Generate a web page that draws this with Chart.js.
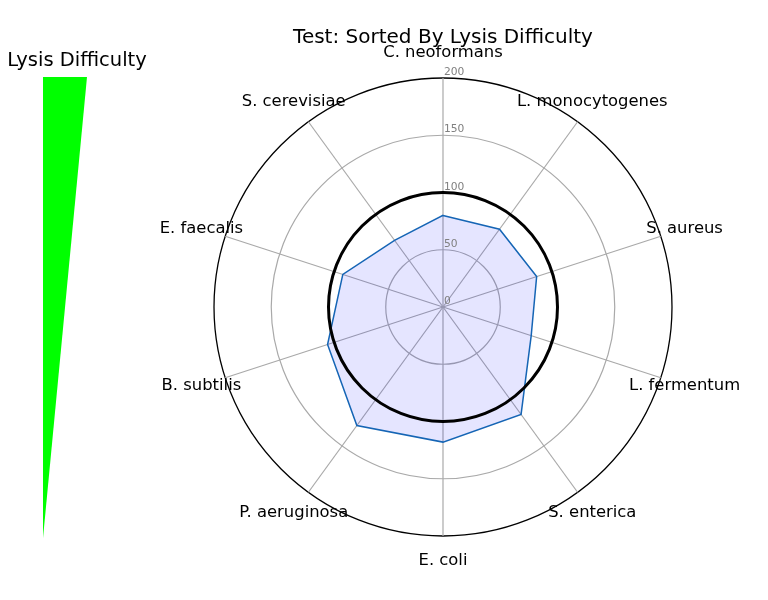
<!DOCTYPE html>
<html>
<head>
<meta charset="utf-8">
<script src="https://cdn.jsdelivr.net/npm/chart.js@4/dist/chart.umd.min.js"></script>
<style>
  body { margin: 0; background: #fff; }
  #wrap { position: relative; width: 768px; height: 600px; }
  #radar { position: absolute; left: 0; top: 0; }
  #wedge { position: absolute; left: 0; top: 40px; }
</style>
</head>
<body>
<div id="wrap">
  <canvas id="radar" width="768" height="600"></canvas>
  <canvas id="wedge" width="160" height="498"></canvas>
</div>
<script>
// organismos ordenados pela dificuldade de lise (sentido horario a partir do topo)
const organisms = ['C. neoformans', 'L. monocytogenes', 'S. aureus', 'L. fermentum', 'S. enterica',
  'E. coli', 'P. aeruginosa', 'B. subtilis', 'E. faecalis', 'S. cerevisiae'];
const testValues = [80, 84, 86, 81, 116, 118, 128, 106, 92, 72];
const radialTicks = [0, 50, 100, 150, 200];
const referenceLevel = 100;

// cunha "Lysis Difficulty"
const wedgeX = [0, 1, 0, 0];
const wedgeY = [1, 1, 0, 1];

const FONT = 'DejaVu Sans';
const GRID = '#a9a9a9';

// desenha rotulos, valores do eixo e o circulo de referencia
const radarDecor = {
  id: 'radarDecor',
  afterDatasetsDraw(chart) {
    const scale = chart.scales.r;
    const ctx = chart.ctx;
    ctx.save();

    // circulo de referencia
    ctx.beginPath();
    ctx.arc(scale.xCenter, scale.yCenter, scale.getDistanceFromCenterForValue(referenceLevel), 0, Math.PI * 2);
    ctx.strokeStyle = '#000';
    ctx.lineWidth = 3;
    ctx.stroke();

    // valores do eixo radial
    ctx.fillStyle = '#808080';
    ctx.font = '10.7px "' + FONT + '"';
    ctx.textAlign = 'left';
    ctx.textBaseline = 'alphabetic';
    radialTicks.forEach(v => {
      const d = scale.getDistanceFromCenterForValue(v);
      ctx.fillText(String(v), scale.xCenter + 1, scale.yCenter - d - 3);
    });

    // nomes dos organismos
    ctx.fillStyle = '#000';
    ctx.font = '16.4px "' + FONT + '"';
    ctx.textAlign = 'center';
    ctx.textBaseline = 'middle';
    const outer = scale.getDistanceFromCenterForValue(200) + 25;
    organisms.forEach((name, i) => {
      const p = scale.getPointPosition(i, outer);
      ctx.fillText(name, p.x, p.y);
    });
    ctx.restore();
  }
};

// titulo da cunha, centrado acima dela
const wedgeTitle = {
  id: 'wedgeTitle',
  afterDraw(chart) {
    const ctx = chart.ctx;
    ctx.save();
    ctx.fillStyle = '#000';
    ctx.font = '19.5px "' + FONT + '"';
    ctx.textAlign = 'center';
    ctx.textBaseline = 'middle';
    ctx.fillText('Lysis Difficulty', 77, 21);
    ctx.restore();
  }
};

new Chart(document.getElementById('radar'), {
  type: 'radar',
  data: {
    labels: organisms,
    datasets: [{
      label: 'Test',
      data: testValues,
      borderColor: '#1565b5',
      borderWidth: 1.5,
      backgroundColor: 'rgba(0, 0, 255, 0.1)',
      fill: true,
      pointRadius: 0,
      tension: 0
    }]
  },
  options: {
    responsive: false,
    animation: false,
    devicePixelRatio: 1,
    layout: { padding: { left: 214, right: 96, top: 0, bottom: 64 } },
    plugins: {
      legend: { display: false },
      tooltip: { enabled: false },
      title: {
        display: true,
        fullSize: false,
        text: 'Test: Sorted By Lysis Difficulty',
        color: '#000',
        font: { family: FONT, size: 20, weight: 'normal' },
        padding: { top: 26, bottom: 28 }
      }
    },
    scales: {
      r: {
        min: 0,
        max: 200,
        afterBuildTicks: axis => { axis.ticks = radialTicks.map(v => ({ value: v })); },
        ticks: { display: false },
        pointLabels: { display: false },
        grid: {
          circular: true,
          color: ctx => ctx.tick && ctx.tick.value === 200 ? '#000' : GRID,
          lineWidth: ctx => ctx.tick && ctx.tick.value === 200 ? 1.3 : 1.2
        },
        angleLines: { color: GRID, lineWidth: 1.2 }
      }
    }
  },
  plugins: [radarDecor]
});

new Chart(document.getElementById('wedge'), {
  type: 'scatter',
  data: {
    datasets: [{
      data: wedgeX.map((x, i) => ({ x: x, y: wedgeY[i] })),
      showLine: true,
      fill: 'shape',
      backgroundColor: '#00ff00',
      borderColor: '#00ff00',
      borderWidth: 0,
      pointRadius: 0
    }]
  },
  options: {
    responsive: false,
    animation: false,
    devicePixelRatio: 1,
    layout: { padding: { left: 43, right: 73, top: 37, bottom: 0 } },
    plugins: {
      legend: { display: false },
      tooltip: { enabled: false }
    },
    scales: {
      x: { display: false, min: 0, max: 1 },
      y: { display: false, min: 0, max: 1 }
    }
  },
  plugins: [wedgeTitle]
});
</script>
</body>
</html>
